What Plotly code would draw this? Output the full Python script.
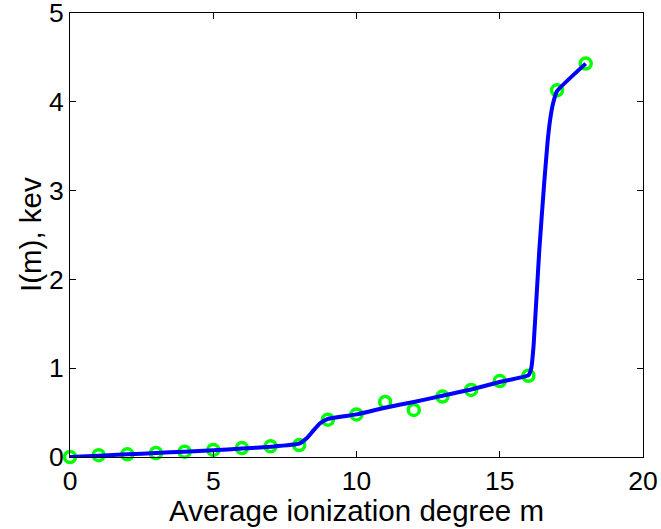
import plotly.graph_objects as go

# Measured data points (green circles)
m_points = [0, 1, 2, 3, 4, 5, 6, 7, 8, 9, 10, 11, 12, 13, 14, 15, 16, 17, 18]
I_points = [0.0, 0.02, 0.03, 0.045, 0.06, 0.08, 0.10, 0.12, 0.135, 0.42, 0.48,
            0.62, 0.53, 0.68, 0.755, 0.855, 0.915, 4.13, 4.43]

# Fitted curve (blue line)
m_curve = [0, 1, 2, 3, 4, 5, 6, 7, 8, 8.26, 8.5, 8.73, 9, 10, 11, 12, 13, 14, 15, 16,
           16.1, 16.18, 16.38, 16.55, 16.67, 16.76, 16.86, 17, 18]
I_curve = [0.0, 0.015, 0.03, 0.045, 0.06, 0.075, 0.095, 0.115, 0.15, 0.21, 0.30, 0.38, 0.43,
           0.48, 0.555, 0.62, 0.69, 0.76, 0.845, 0.92,
           1.0, 1.25, 2.33, 3.08, 3.55, 3.8, 3.98, 4.12, 4.43]

x_ticks = [0, 5, 10, 15, 20]
y_ticks = [0, 1, 2, 3, 4, 5]

FONT = "Liberation Sans, Arial, sans-serif"

fig = go.Figure()
fig.add_trace(go.Scatter(
    x=m_points, y=I_points, mode="markers",
    marker=dict(symbol="circle-open", size=11, color="#00ff00",
                line=dict(width=3.5, color="#00ff00")),
    showlegend=False, cliponaxis=False))
fig.add_trace(go.Scatter(
    x=m_curve, y=I_curve, mode="lines",
    line=dict(color="#0000ff", width=4, shape="spline", smoothing=0.4),
    showlegend=False, cliponaxis=False))

axis_common = dict(showline=True, linecolor="black", linewidth=1, mirror="ticks",
                   ticks="inside", ticklen=6, tickcolor="black", tickwidth=1,
                   showgrid=False, zeroline=False, automargin=False,
                   ticklabeloverflow="allow",
                   tickfont=dict(family=FONT, size=26.5, color="black"))

fig.update_layout(
    width=661, height=529,
    margin=dict(l=70, r=18, t=13, b=72),
    paper_bgcolor="white", plot_bgcolor="white",
    xaxis=dict(range=[0, 20], tickvals=x_ticks, ticktext=[str(v) for v in x_ticks],
               **axis_common),
    yaxis=dict(range=[0, 5], tickvals=y_ticks, ticktext=[str(v) for v in y_ticks],
               **axis_common),
    annotations=[
        dict(text="Average ionization degree m", x=0.5, y=0, xref="paper", yref="paper",
             xanchor="center", yanchor="middle", yshift=-53, showarrow=False,
             font=dict(family=FONT, size=29.5, color="black")),
        dict(text="I(m), kev", x=0, y=0.5, xref="paper", yref="paper",
             xanchor="center", yanchor="middle", xshift=-40, textangle=-90, showarrow=False,
             font=dict(family=FONT, size=29.5, color="black")),
    ],
)

fig.write_html("out.html")
